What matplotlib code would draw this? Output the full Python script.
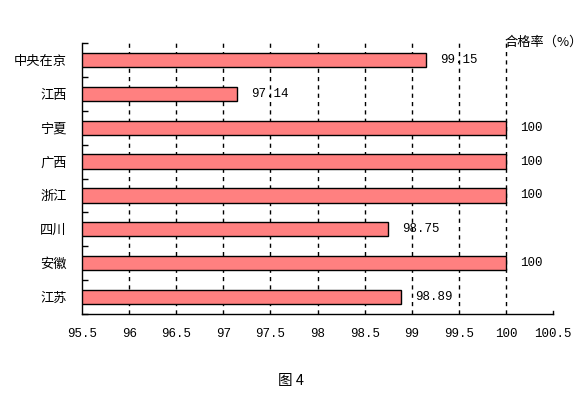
import matplotlib.pyplot as plt
import numpy as np

plt.rcParams['font.family'] = ['Noto Sans CJK SC', 'DejaVu Sans']

regions = ['中央在京', '江西', '宁夏', '广西', '浙江', '四川', '安徽', '江苏']
rates = [99.15, 97.14, 100, 100, 100, 98.75, 100, 98.89]
rate_labels = ['99.15', '97.14', '100', '100', '100', '98.75', '100', '98.89']
x_ticks = [95.5, 96, 96.5, 97, 97.5, 98, 98.5, 99, 99.5, 100, 100.5]

num_font = 'Liberation Mono'

fig = plt.figure(figsize=(5.83, 3.95), dpi=100)
ax = fig.add_axes([0.1407, 0.205, 0.808, 0.686])

y = np.arange(len(regions))
ax.barh(y, np.array(rates) - 95.5, left=95.5, height=0.42,
        color='#ff8080', edgecolor='black', linewidth=1, zorder=3)

for yi, v, s in zip(y, rates, rate_labels):
    ax.text(v + 0.15, yi, s, va='center', ha='left', fontsize=9,
            family=num_font, zorder=4)

# dashed verticals at inner ticks
for t in x_ticks[1:-1]:
    ax.axvline(t, color='black', linestyle=(0, (3, 3)), lw=1, zorder=1)

ax.set_xlim(95.5, 100.5)
ax.set_ylim(len(regions) - 0.5, -0.5)
ax.set_xticks(x_ticks)
ax.set_xticklabels([('%g' % t) for t in x_ticks], fontsize=9, family=num_font)
ax.set_yticks(y)
ax.set_yticklabels(regions, fontsize=9.5)
ax.set_yticks(np.arange(len(regions) + 1) - 0.5, minor=True)
ax.tick_params(axis='y', which='major', length=0, pad=11)
ax.tick_params(axis='y', which='minor', length=4, direction='in', width=1)
ax.tick_params(axis='x', which='major', length=0, pad=10)

for side in ['top', 'right']:
    ax.spines[side].set_visible(False)
ax.spines['left'].set_linewidth(1)
ax.spines['bottom'].set_linewidth(1)
ax.plot([100.5, 100.5], [7.5, 7.4], color='black', lw=1, clip_on=False)

fig.text(0.866, 0.893, '合格率（%）', ha='left', va='center', fontsize=9.5)
fig.text(0.5, 0.035, '图 4', ha='center', va='center', fontsize=10.5)

fig.savefig('out.png', dpi=100)
